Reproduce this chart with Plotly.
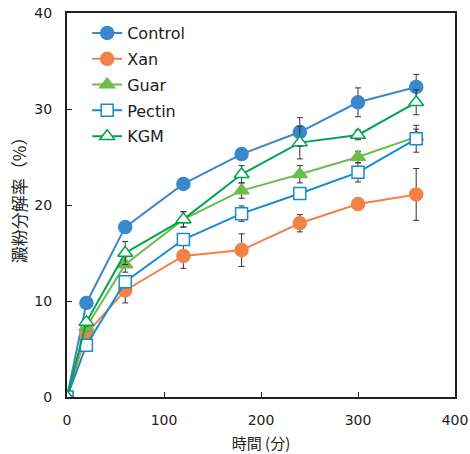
import plotly.graph_objects as go

# Sampling times (min)
time_min = [0, 20, 60, 120, 180, 240, 300, 360]

# Starch hydrolysis (%) and standard deviations per treatment
control = [0, 9.8, 17.7, 22.2, 25.3, 27.6, 30.7, 32.3]
control_sd = [0, 0.3, 0.4, 0.4, 0.5, 1.5, 1.5, 1.3]

xan = [0, 6.6, 11.1, 14.7, 15.3, 18.1, 20.1, 21.1]
xan_sd = [0, 0.4, 1.3, 1.3, 1.7, 0.9, 0.6, 2.7]

guar = [0, 7.3, 13.8, 18.5, 21.5, 23.2, 25.0, 27.1]
guar_sd = [0, 0.4, 0.8, 0.8, 0.8, 0.9, 0.6, 0.8]

pectin = [0, 5.4, 12.0, 16.4, 19.1, 21.2, 23.4, 26.9]
pectin_sd = [0, 0.3, 0.6, 0.6, 0.8, 0.6, 1.0, 1.4]

kgm = [0, 7.8, 15.0, 18.5, 23.2, 26.5, 27.3, 30.7]
kgm_sd = [0, 0.4, 1.2, 0.8, 0.9, 1.7, 0.5, 1.3]

series = [
    ("Control", control, control_sd, "#3a88cc", "circle", "#3a88cc"),
    ("Xan", xan, xan_sd, "#f08248", "circle", "#f08248"),
    ("Guar", guar, guar_sd, "#6cbd4c", "triangle-up", "#6cbd4c"),
    ("Pectin", pectin, pectin_sd, "#168bd2", "square", "white"),
    ("KGM", kgm, kgm_sd, "#00a352", "triangle-up", "white"),
]

fig = go.Figure()
for name, vals, sd, color, symbol, fill in series:
    fig.add_trace(go.Scatter(
        x=time_min, y=vals, name=name, legendgroup=name,
        mode="lines+markers",
        line=dict(color=color, width=2),
        marker=dict(symbol=symbol, size=13 if symbol != "square" else 12,
                    color=fill, line=dict(color=color, width=1.5)),
        error_y=dict(type="data", array=sd, visible=True,
                     color="#333333", thickness=1, width=3),
    ))

# Vertical y-axis label placed as a rotated annotation
fig.add_annotation(
    text="澱粉分解率（%）", textangle=-90,
    xref="paper", yref="paper", x=-0.126, y=0.523,
    xanchor="center", yanchor="middle", showarrow=False,
    font=dict(family="Noto Sans CJK JP", size=17, color="#222222"),
)

fig.update_layout(
    width=470, height=454,
    margin=dict(l=67, r=15, t=13, b=57),
    paper_bgcolor="white", plot_bgcolor="white",
    font=dict(family="DejaVu Sans, Verdana, sans-serif", size=14, color="#222222"),
    showlegend=True,
    legend=dict(x=0.052, y=0.992, xanchor="left", yanchor="top",
                bgcolor="rgba(0,0,0,0)", font=dict(size=16),
                tracegroupgap=2, itemwidth=30),
    xaxis=dict(
        range=[0, 400], tickvals=[0, 100, 200, 300, 400],
        ticks="inside", ticklen=5, tickcolor="#231f20",
        ticklabelstandoff=9, automargin=False,
        showline=True, linecolor="#231f20", linewidth=2, mirror=True,
        showgrid=False, zeroline=False,
        title=dict(text="時間 (分)", standoff=12,
                   font=dict(family="Noto Sans CJK JP", size=15)),
    ),
    yaxis=dict(
        range=[0, 40], tickvals=[0, 10, 20, 30, 40],
        ticks="inside", ticklen=5, tickcolor="#231f20",
        ticklabelstandoff=10, automargin=False,
        showline=True, linecolor="#231f20", linewidth=2, mirror=True,
        showgrid=False, zeroline=False,
    ),
)

fig.write_html("out.html")
